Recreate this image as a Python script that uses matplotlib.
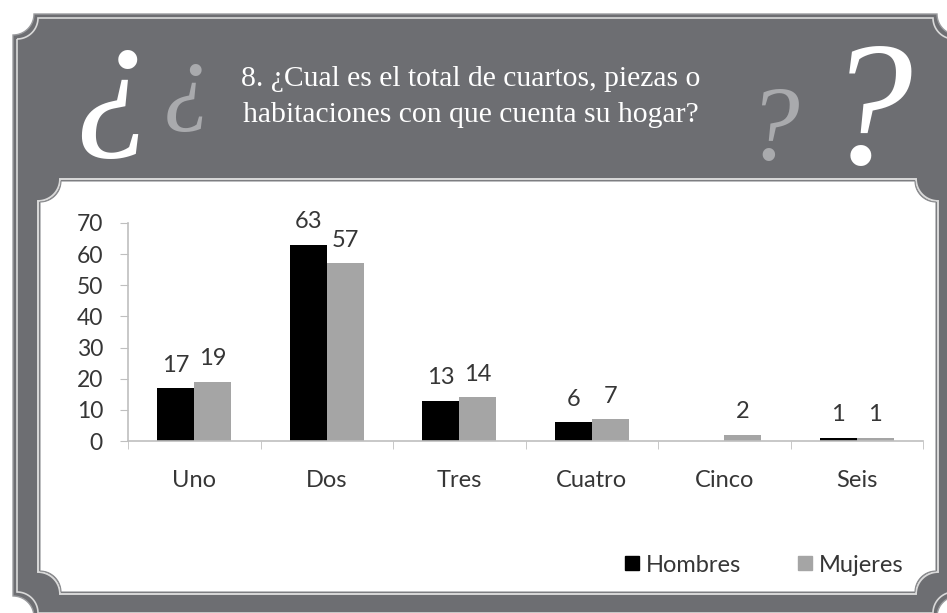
import numpy as np
import matplotlib.pyplot as plt
from matplotlib.path import Path
from matplotlib.patches import PathPatch
from matplotlib.lines import Line2D

categories = ['Uno', 'Dos', 'Tres', 'Cuatro', 'Cinco', 'Seis']
hombres = [17, 63, 13, 6, 0, 1]
mujeres = [19, 57, 14, 7, 2, 1]
series_names = ['Hombres', 'Mujeres']
yticks = [0, 10, 20, 30, 40, 50, 60, 70]
title_lines = ['8. ¿Cual es el total de cuartos, piezas o',
               'habitaciones con que cuenta su hogar?']

FRAME = '#6d6e72'
LIGHT = '#d9d9d9'
BLACK = '#000000'
GREY = '#a5a5a5'
TXT = '#363636'
W, H = 947, 613


def scalloped_rect(x0, y0, x1, y1, r, n=20):
    """Rectangle (pixel coords, y down) with concave quarter-circle corners."""
    pts = []
    corners = [((x0, y0), 90, 0), ((x1, y0), 180, 90),
               ((x1, y1), 270, 180), ((x0, y1), 360, 270)]
    for (cx, cy), a0, a1 in corners:
        a = np.radians(np.linspace(a0, a1, n))
        pts += list(zip(cx + r * np.cos(a), cy + r * np.sin(a)))
    pts.append(pts[0])
    return Path(pts, closed=True)


fig = plt.figure(figsize=(W / 100, H / 100), dpi=100, facecolor='white')

# background decoration in pixel coordinates
bg = fig.add_axes([0, 0, 1, 1])
bg.set_xlim(0, W)
bg.set_ylim(H, 0)
bg.axis('off')

bg.add_patch(PathPatch(scalloped_rect(13, 14, 958, 617, 21), fc=FRAME, ec='#9a9b9e', lw=1))
bg.add_patch(PathPatch(scalloped_rect(17, 18, 954, 613, 21), fc='none', ec=LIGHT, lw=1.2))
bg.add_patch(PathPatch(scalloped_rect(38, 179, 938, 594, 22), fc='none', ec=LIGHT, lw=1.4))
bg.add_patch(PathPatch(scalloped_rect(40, 181, 936, 592, 21), fc='white', ec='#8a8b8e', lw=0.8))

# decorative question marks
bg.text(114, 126, '¿', color='white', fontsize=116, family='Liberation Serif',
        style='italic', ha='center', va='baseline')
bg.text(188, 111, '¿', color='#a9aaad', fontsize=72, family='Liberation Serif',
        style='italic', ha='center', va='baseline')
bg.text(772, 160, '?', color='#a9aaad', fontsize=76, family='Liberation Serif',
        style='italic', ha='center', va='baseline')
bg.text(868, 163, '?', color='white', fontsize=128, family='Liberation Serif',
        style='italic', ha='center', va='baseline')

for i, line in enumerate(title_lines):
    bg.text(471, 86 + i * 36, line, color='white', fontsize=21.3,
            family='Liberation Serif', ha='center', va='baseline')

# chart
ax = fig.add_axes([128 / W, (H - 441) / H, (923 - 128) / W, (441 - 223) / H])
ax.patch.set_alpha(0)
x = np.arange(len(categories))
bw = 0.28
b1 = ax.bar(x - bw / 2, hombres, bw, color=BLACK, label=series_names[0])
b2 = ax.bar(x + bw / 2, mujeres, bw, color=GREY, label=series_names[1])

for bars, vals in ((b1, hombres), (b2, mujeres)):
    for rect, v in zip(bars, vals):
        if v == 0:
            continue
        ax.annotate(str(v), (rect.get_x() + rect.get_width() / 2, v),
                    xytext=(0, 9), textcoords='offset points', ha='center',
                    va='bottom', fontsize=17, family='Lato', color=TXT)

ax.set_xlim(-0.5, len(categories) - 0.5)
ax.set_ylim(0, 70)
ax.set_yticks(yticks)
ax.set_yticklabels([str(t) for t in yticks], fontsize=16.5, family='Lato', color=TXT)
ax.set_xticks(x)
ax.set_xticklabels(categories, fontsize=17, family='Lato', color=TXT)
ax.set_xticks(np.arange(len(categories) + 1) - 0.5, minor=True)
ax.tick_params(axis='x', which='major', length=0, pad=21)
ax.tick_params(axis='x', which='minor', length=6, color='#bfbfbf', direction='out')
ax.tick_params(axis='y', length=6, color='#bfbfbf', pad=12)
for s in ('top', 'right'):
    ax.spines[s].set_visible(False)
for s in ('left', 'bottom'):
    ax.spines[s].set_color('#bfbfbf')
    ax.spines[s].set_linewidth(1.2)

handles = [Line2D([], [], marker='s', ls='none', color=BLACK, markersize=10),
           Line2D([], [], marker='s', ls='none', color=GREY, markersize=10)]
leg = fig.legend(handles, series_names, loc='center', bbox_to_anchor=(764 / W, (H - 565) / H),
                 ncol=2, frameon=False, handlelength=0.6, handletextpad=0.3,
                 columnspacing=2.4, prop={'family': 'Lato', 'size': 17})
for t in leg.get_texts():
    t.set_color(TXT)

fig.savefig('out.png', dpi=100, facecolor='white')
